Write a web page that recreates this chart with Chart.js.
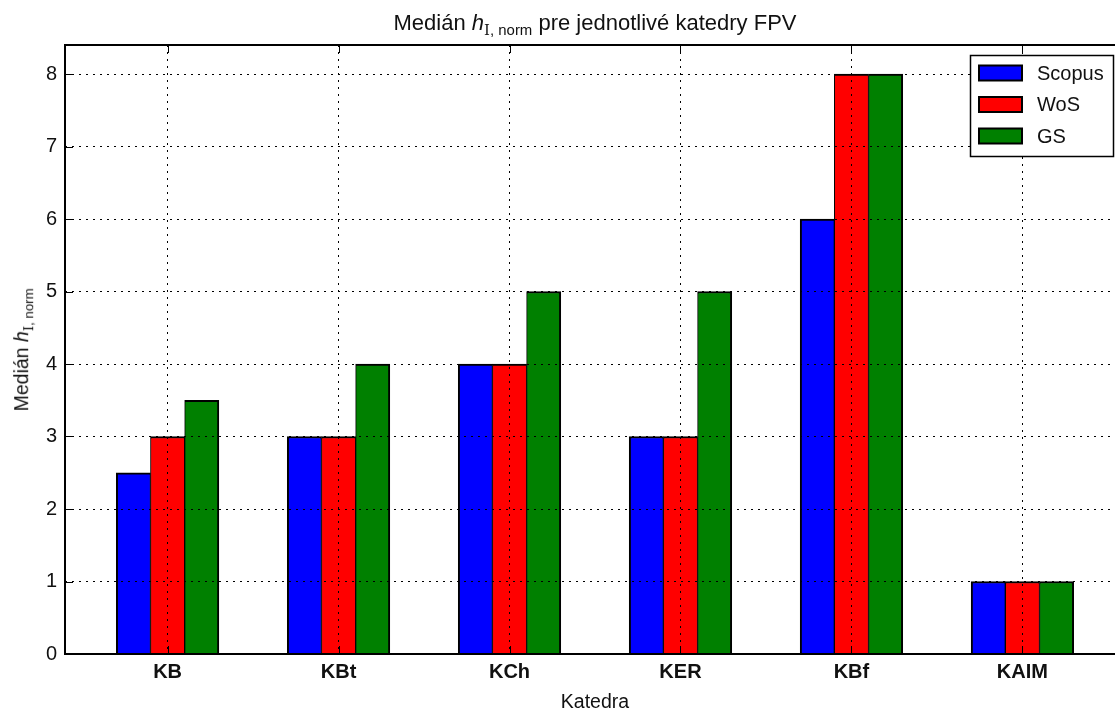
<!DOCTYPE html>
<html>
<head>
<meta charset="utf-8">
<script src="https://cdn.jsdelivr.net/npm/chart.js@4.4.0/dist/chart.umd.min.js"></script>
<style>
  html, body { margin: 0; padding: 0; overflow: hidden; background: #fff; }
  #wrap { position: relative; width: 1115px; height: 710px; overflow: hidden; }
  #chart { position: absolute; left: 0; top: 0; }
  #title {
    position: absolute; top: 10px; left: 0; width: 1190px; text-align: center;
    font: 22px "Liberation Sans", Arial, sans-serif; color: #111; white-space: nowrap;
  }
  #ylabel {
    position: absolute; left: -127px; top: 337px; width: 300px; text-align: center;
    transform: rotate(-90deg); font: 19.5px "Liberation Sans", Arial, sans-serif; color: #111; white-space: nowrap;
  }
  .sub { font-size: 0.68em; vertical-align: -0.35em; }
  .rm { font-family: "DejaVu Serif", "Liberation Serif", serif; }
</style>
</head>
<body>
<div id="wrap">
  <canvas id="chart" width="1130" height="710"></canvas>
  <div id="title">Medián <i>h</i><span class="sub"><span class="rm">I</span>, norm</span> pre jednotlivé katedry FPV</div>
  <div id="ylabel">Medián <i>h</i><span class="sub"><span class="rm">I</span>, norm</span></div>
</div>
<script>
const categories = ["KB", "KBt", "KCh", "KER", "KBf", "KAIM"];
const scopus = [2.5, 3, 4, 3, 6, 1];
const wos = [3, 3, 4, 3, 8, 1];
const gs = [3.5, 4, 5, 5, 8, 1];
const seriesNames = ["Scopus", "WoS", "GS"];
const seriesColors = ["#0000ff", "#ff0000", "#008000"];
const yTicks = [0, 1, 2, 3, 4, 5, 6, 7, 8];
const barShift = [-0.2, 0, 0.2];

const series = [scopus, wos, gs];
const font = '"Liberation Sans", Arial, sans-serif';
// outer edges of a group get 2px, inner edges 1px each (2px together)
const barBorders = [
  { left: 2, right: 1, top: 2 },
  { left: 1, right: 1, top: 2 },
  { left: 1, right: 2, top: 2 }
];

// frame + inward tick marks + legend box
const framePlugin = {
  id: "frame",
  afterDraw(chart) {
    const { ctx, chartArea: a, scales } = chart;
    ctx.save();
    ctx.strokeStyle = "#000";
    ctx.lineWidth = 1;
    ctx.beginPath();
    scales.y.ticks.forEach(t => {
      const y = Math.round(scales.y.getPixelForValue(t.value)) + 0.5;
      ctx.moveTo(a.left, y); ctx.lineTo(a.left + 8, y);
      ctx.moveTo(a.right, y); ctx.lineTo(a.right - 8, y);
    });
    scales.x.ticks.forEach(t => {
      const x = Math.round(scales.x.getPixelForValue(t.value)) + 0.5;
      ctx.moveTo(x, a.top); ctx.lineTo(x, a.top + 8);
      ctx.moveTo(x, a.bottom); ctx.lineTo(x, a.bottom - 8);
    });
    ctx.stroke();
    ctx.lineWidth = 2;
    ctx.strokeRect(a.left, a.top, a.right - a.left, a.bottom - a.top);

    const bx = a.right - 155, by = a.top + 10, bw = 143, bh = 101;
    ctx.fillStyle = "#fff";
    ctx.fillRect(bx, by, bw, bh);
    ctx.lineWidth = 1.5;
    ctx.strokeRect(bx + 0.5, by + 0.5, bw, bh);
    ctx.font = "20px " + font;
    ctx.textBaseline = "middle";
    chart.data.datasets.forEach((ds, i) => {
      const cy = by + 18 + i * 31.5;
      ctx.fillStyle = ds.backgroundColor;
      ctx.fillRect(bx + 9, cy - 7.5, 43, 15);
      ctx.lineWidth = 2;
      ctx.strokeRect(bx + 9, cy - 7.5, 43, 15);
      ctx.fillStyle = "#111";
      ctx.fillText(ds.label, bx + 67, cy + 1);
    });
    ctx.restore();
  }
};

new Chart(document.getElementById("chart"), {
  type: "bar",
  data: {
    datasets: series.map((vals, k) => ({
      label: seriesNames[k],
      data: vals.map((v, i) => ({ x: i + barShift[k], y: v })),
      backgroundColor: seriesColors[k],
      borderColor: "#000",
      borderWidth: barBorders[k],
      grouped: false,
      barPercentage: 1,
      categoryPercentage: 1
    }))
  },
  options: {
    responsive: false,
    animation: false,
    layout: { padding: { top: 45, right: 5, left: 0, bottom: 0 } },
    plugins: { legend: { display: false }, title: { display: false }, tooltip: { enabled: false } },
    scales: {
      x: {
        type: "linear",
        min: -0.6,
        max: 5.6,
        offset: false,
        afterBuildTicks: axis => { axis.ticks = categories.map((c, i) => ({ value: i })); },
        afterFit: axis => { axis.height = 56; },
        grid: { offset: false, color: "#000", lineWidth: 1, drawTicks: false, z: 1 },
        border: { display: false, dash: [2, 5] },
        ticks: {
          padding: 6,
          color: "#111",
          font: { family: font, size: 20, weight: "bold" },
          callback: v => categories[v]
        },
        title: {
          display: true,
          text: "Katedra",
          color: "#111",
          font: { family: font, size: 19.5, lineHeight: 1 },
          padding: { top: 0, bottom: -2 }
        }
      },
      y: {
        min: 0,
        max: 8.4,
        afterBuildTicks: axis => { axis.ticks = yTicks.map(v => ({ value: v })); },
        afterFit: axis => { axis.width = 65; },
        grid: { color: "#000", lineWidth: 1, drawTicks: false, z: 1 },
        border: { display: false, dash: [2, 5] },
        ticks: { padding: 8, color: "#111", font: { family: font, size: 20 } }
      }
    }
  },
  plugins: [framePlugin]
});
</script>
</body>
</html>
